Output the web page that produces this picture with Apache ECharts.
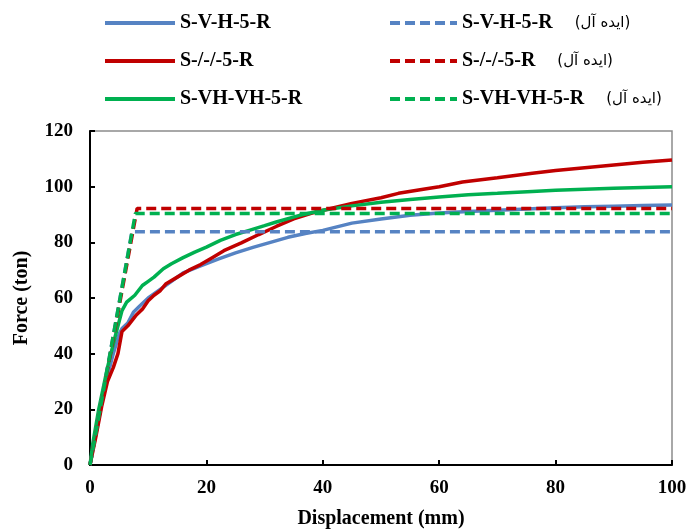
<!DOCTYPE html>
<html>
<head>
<meta charset="utf-8">
<script src="https://cdn.jsdelivr.net/npm/echarts@6/dist/echarts.min.js"></script>
<style>
  html, body { margin: 0; padding: 0; background: #fff; }
  #box { width: 687px; height: 531px; }
</style>
</head>
<body>
<div id="box"></div>
<script>
// 数据 (x = displacement mm, y = force ton)
var svh = [[0,0],[1,11],[2,22],[3,32],[4,40],[5,47],[5.5,49],[6.5,51],[7.5,55],[8.5,57],[10,60],[12,63],[14,66],[16,69],[19,71.5],[22,74],[25,76.2],[28,78.2],[31,80],[34,81.8],[37,83.2],[40,84.3],[45,86.9],[50,88.4],[55,89.7],[60,90.5],[65,91.1],[70,91.5],[75,92],[80,92.4],[85,92.8],[90,93],[95,93.2],[100,93.4]];
var s55 = [[0,0],[1,10],[2,21],[3,30],[4,35],[4.8,40],[5.5,48],[6.5,50],[8,54],[9,56],[10,59],[11,61],[12,62.5],[13,65],[15,67.5],[17,70],[19,72],[21,74.5],[23,77],[26,79.8],[29,82.8],[32,85.7],[35,88.4],[38,90.4],[41,92],[45,94],[50,96],[53,97.6],[57,99],[60,100],[64,101.7],[70,103.2],[76,104.8],[80,105.8],[85,106.8],[90,107.8],[95,108.8],[100,109.6]];
var svhvh = [[0,0],[0.5,8],[1.5,20],[3,35],[4.3,46],[5.5,55.5],[6.3,58.5],[7.7,61],[9,64.5],[10,66],[11,67.5],[12.6,70.5],[14,72.3],[16,74.5],[18,76.5],[20,78.3],[22.4,80.7],[25,82.8],[27.5,84.4],[30,86],[32,87.3],[36,89.7],[40,91.5],[45,93.1],[50,94.4],[55,95.4],[60,96.3],[65,97.1],[70,97.6],[76,98.3],[80,98.7],[90,99.4],[100,100]];
// 理想化 (ایده آل)
var svhIdeal = [[0,0],[7.2,83.8],[100,83.8]];
var s55Ideal = [[0,0],[8.1,92.2],[100,92.2]];
var svhvhIdeal = [[0,0],[7.8,90.4],[100,90.4]];

var names = ['S-V-H-5-R', 'S-/-/-5-R', 'S-VH-VH-5-R'];
var idealTag = '(ایده آل)';
var colors = ['#5683c3', '#c00000', '#00b050'];

var myChart = echarts.init(document.getElementById('box'));

var serif = '"Liberation Serif", "Times New Roman", serif';

function lineSeries(name, data, color, dashed) {
    return {
        name: name,
        type: 'line',
        data: data,
        symbol: 'none',
        z: dashed ? 3 : 2,
        lineStyle: { color: color, width: 3.5, type: dashed ? [10, 5] : 'solid' },
        itemStyle: { color: color }
    };
}

var idealNames = names.map(function (n) { return n + ' ' + idealTag; });

var option = {
    backgroundColor: '#ffffff',
    animation: false,
    textStyle: { fontFamily: serif },
    grid: {
        left: 90, right: 15, top: 131, bottom: 66,
        outerBoundsMode: 'none',
        show: true, borderColor: '#8c8c8c', borderWidth: 1.5
    },
    legend: [{
        orient: 'vertical',
        left: 98, top: 8,
        itemWidth: 70, itemHeight: 14, itemGap: 18,
        selectedMode: false,
        itemStyle: { opacity: 0 },
        lineStyle: { width: 4 },
        data: names,
        textStyle: { fontFamily: serif, fontWeight: 'bold', fontSize: 20, color: '#000' }
    }, {
        orient: 'vertical',
        left: 383, top: 8,
        itemWidth: 67, itemHeight: 14, itemGap: 18,
        selectedMode: false,
        itemStyle: { opacity: 0 },
        lineStyle: { width: 4 },
        data: idealNames,
        formatter: function (n) {
            return '{b|' + n.replace(' ' + idealTag, '') + '}{p|' + idealTag + '}';
        },
        textStyle: {
            rich: {
                b: { fontFamily: serif, fontWeight: 'bold', fontSize: 20, color: '#000', padding: [0, 22, 0, 0] },
                p: { fontFamily: '"DejaVu Sans", "Noto Sans", sans-serif', fontSize: 15, color: '#000' }
            }
        }
    }],
    xAxis: {
        type: 'value',
        min: 0, max: 100, interval: 20,
        name: 'Displacement (mm)',
        nameLocation: 'middle',
        nameGap: 44,
        nameTextStyle: { fontFamily: serif, fontWeight: 'bold', fontSize: 20, color: '#000' },
        axisLine: { lineStyle: { color: '#000', width: 2 } },
        axisTick: { inside: true, length: 5, lineStyle: { color: '#000', width: 2 } },
        axisLabel: { fontFamily: serif, fontWeight: 'bold', fontSize: 19, color: '#000', margin: 14 },
        splitLine: { show: false }
    },
    yAxis: {
        type: 'value',
        min: 0, max: 120, interval: 20,
        name: 'Force (ton)',
        nameLocation: 'middle',
        nameGap: 58,
        nameTextStyle: { fontFamily: serif, fontWeight: 'bold', fontSize: 20, color: '#000' },
        axisLine: { show: true, lineStyle: { color: '#000', width: 2 } },
        axisTick: { show: true, inside: true, length: 5, lineStyle: { color: '#000', width: 2 } },
        axisLabel: { fontFamily: serif, fontWeight: 'bold', fontSize: 19, color: '#000', margin: 17 },
        splitLine: { show: false }
    },
    series: [
        lineSeries(names[0], svh, colors[0], false),
        lineSeries(names[1], s55, colors[1], false),
        lineSeries(names[2], svhvh, colors[2], false),
        lineSeries(idealNames[0], svhIdeal, colors[0], true),
        lineSeries(idealNames[1], s55Ideal, colors[1], true),
        lineSeries(idealNames[2], svhvhIdeal, colors[2], true)
    ]
};

myChart.setOption(option);
</script>
</body>
</html>
